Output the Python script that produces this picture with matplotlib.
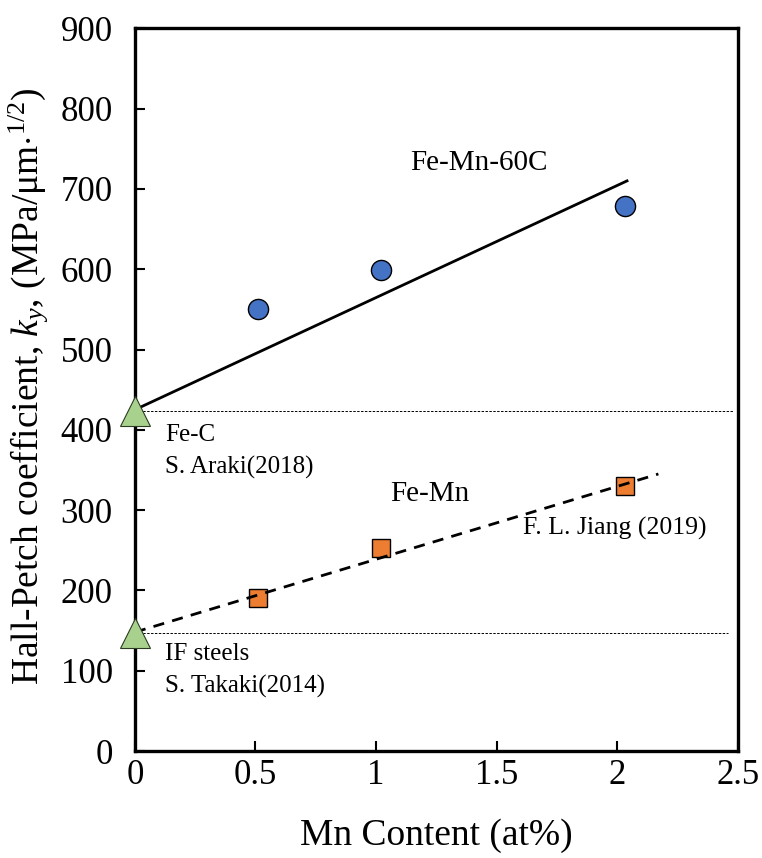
import matplotlib
matplotlib.use("Agg")
import matplotlib.pyplot as plt

plt.rcParams['font.family'] = ['Liberation Serif', 'DejaVu Serif']
plt.rcParams['mathtext.fontset'] = 'custom'
plt.rcParams['mathtext.rm'] = 'Liberation Serif'
plt.rcParams['mathtext.it'] = 'Liberation Serif:italic'

# Fe-Mn-60C measurements
mn_60c = [0.51, 1.02, 2.03]
ky_60c = [551, 599, 679]

# Fe-Mn (F. L. Jiang 2019)
mn_femn = [0.51, 1.02, 2.03]
ky_femn = [191, 253, 330]

# Mn-free references: Fe-C (Araki 2018) and IF steels (Takaki 2014)
mn_ref = [0, 0]
ky_ref = [423, 147]

# Trend lines
fit_60c_x = [0, 2.04]
fit_60c_y = [425, 710]
fit_femn_x = [0, 2.17]
fit_femn_y = [148, 345]

xticks = [0, 0.5, 1, 1.5, 2, 2.5]
xtick_labels = ['0', '0.5', '1', '1.5', '2', '2.5']
yticks = list(range(0, 901, 100))

fig = plt.figure(figsize=(7.62, 8.58), dpi=100)
ax = fig.add_axes([0.177, 0.1247, 0.7915, 0.8423])

ax.set_xlim(0, 2.5)
ax.set_ylim(0, 900)

# reference levels
ax.plot([0, 2.48], [ky_ref[0]] * 2, ls=(0, (2.5, 1.5)), color='black', lw=0.7, zorder=2)
ax.plot([0, 2.46], [ky_ref[1]] * 2, ls=(0, (2.5, 1.5)), color='black', lw=0.7, zorder=2)

ax.plot(mn_60c, ky_60c, 'o', ms=14.5, mfc='#4472C4', mec='black', mew=1.0, zorder=3)
ax.plot(mn_femn, ky_femn, 's', ms=13, mfc='#ED7D31', mec='black', mew=1.0, zorder=3)

ax.plot(fit_60c_x, fit_60c_y, '-', color='black', lw=2.0, zorder=4)
ax.plot(fit_femn_x, fit_femn_y, color='black', lw=2.0, ls=(0, (4, 3)), zorder=4)

ax.plot(mn_ref, ky_ref, '^', ms=21, mfc='#A9D18E', mec='#2b3b22', mew=0.8,
        zorder=5, clip_on=False)

ax.text(1.14, 732, 'Fe-Mn-60C', fontsize=21, va='center', ha='left')
ax.text(1.06, 320, 'Fe-Mn', fontsize=21, va='center', ha='left')
ax.text(1.61, 277, 'F. L. Jiang (2019)', fontsize=18.5, va='center', ha='left')
ax.text(0.125, 393, 'Fe-C', fontsize=18, va='center', ha='left')
ax.text(0.125, 353, 'S. Araki(2018)', fontsize=18, va='center', ha='left')
ax.text(0.125, 121, 'IF steels', fontsize=18, va='center', ha='left')
ax.text(0.125, 80, 'S. Takaki(2014)', fontsize=18, va='center', ha='left')

ax.set_xticks(xticks)
ax.set_xticklabels(xtick_labels)
ax.set_yticks(yticks)
ax.tick_params(axis='both', direction='in', length=7, width=1.5, labelsize=25)
ax.tick_params(axis='x', pad=6)
ax.tick_params(axis='y', pad=16)

for sp in ax.spines.values():
    sp.set_linewidth(2.4)

ax.set_xlabel('Mn Content (at%)', fontsize=27, labelpad=19)
ax.set_ylabel(r'Hall-Petch coefficient, $k_y$, (MPa/μm$\cdot^{1/2}$)', fontsize=27, labelpad=6)
ax.yaxis.set_label_coords(-0.141, 0.505)

fig.savefig('out.png', dpi=100)
